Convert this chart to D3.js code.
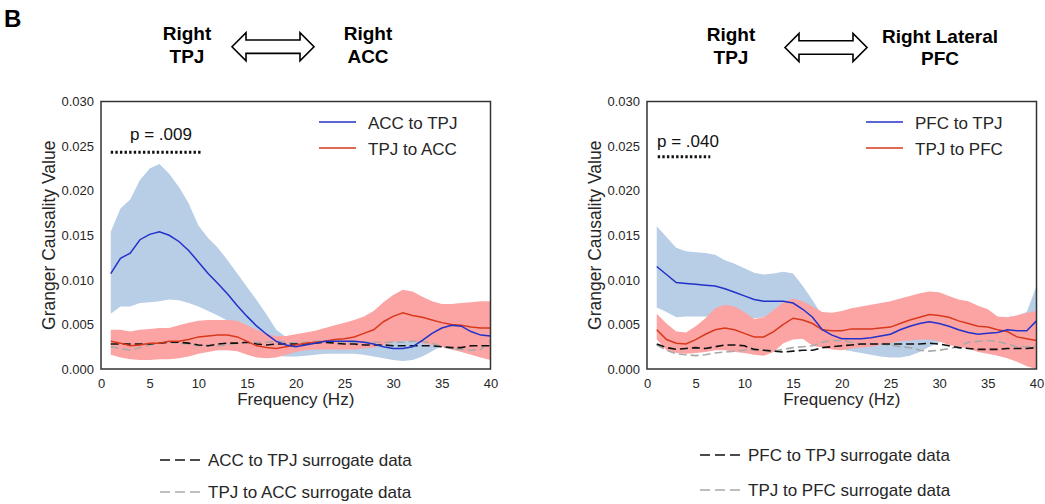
<!DOCTYPE html>
<html><head><meta charset="utf-8">
<script src="https://cdn.jsdelivr.net/npm/d3@7"></script>
<style>
html,body{margin:0;padding:0;background:#fff;}
svg{display:block;font-family:"Liberation Sans",Arial,sans-serif;}
</style></head>
<body><svg id="c" width="1045" height="504"></svg>
<script>
// ---------- DATA ----------
const freqs = [1,2,3,4,5,6,7,8,9,10,11,12,13,14,15,16,17,18,19,20,21,22,23,24,25,26,27,28,29,30,31,32,33,34,35,36,37,38,39,40];
const xTicks = [0,5,10,15,20,25,30,35,40];
const yTicks = [0,0.005,0.010,0.015,0.020,0.025,0.030];

// Left panel: ACC <-> TPJ
const accToTpj      = [0.0107,0.0124,0.0130,0.0145,0.0151,0.0154,0.0150,0.0143,0.0133,0.0120,0.0107,0.0096,0.0084,0.0071,0.0059,0.0048,0.0039,0.0031,0.0027,0.0025,0.0027,0.0029,0.0031,0.0031,0.0031,0.0031,0.0030,0.0028,0.0025,0.0023,0.0023,0.0025,0.0032,0.0040,0.0046,0.0049,0.0048,0.0042,0.0038,0.0037];
const accToTpjUpper = [0.0154,0.0180,0.0190,0.0212,0.0225,0.0230,0.0219,0.0204,0.0186,0.0161,0.0147,0.0136,0.0122,0.0107,0.0092,0.0077,0.0061,0.0044,0.0036,0.0034,0.0034,0.0035,0.0036,0.0036,0.0036,0.0036,0.0036,0.0035,0.0034,0.0034,0.0034,0.0036,0.0042,0.0050,0.0057,0.0061,0.0060,0.0055,0.0050,0.0048];
const accToTpjLower = [0.0062,0.0070,0.0070,0.0074,0.0075,0.0076,0.0078,0.0077,0.0074,0.0070,0.0065,0.0060,0.0054,0.0046,0.0037,0.0028,0.0020,0.0015,0.0014,0.0014,0.0015,0.0016,0.0017,0.0017,0.0017,0.0017,0.0016,0.0014,0.0012,0.0010,0.0009,0.0010,0.0014,0.0020,0.0026,0.0028,0.0025,0.0020,0.0015,0.0011];
const tpjToAcc      = [0.0031,0.0029,0.0026,0.0027,0.0029,0.0029,0.0031,0.0031,0.0033,0.0036,0.0037,0.0038,0.0038,0.0036,0.0031,0.0026,0.0024,0.0023,0.0025,0.0027,0.0029,0.0030,0.0031,0.0033,0.0034,0.0036,0.0040,0.0044,0.0053,0.0059,0.0063,0.0060,0.0058,0.0055,0.0052,0.0050,0.0049,0.0047,0.0046,0.0046];
const tpjToAccUpper = [0.0044,0.0044,0.0042,0.0044,0.0045,0.0046,0.0046,0.0049,0.0052,0.0054,0.0055,0.0055,0.0055,0.0054,0.0049,0.0044,0.0039,0.0037,0.0037,0.0039,0.0041,0.0043,0.0046,0.0049,0.0052,0.0055,0.0059,0.0065,0.0075,0.0083,0.0089,0.0087,0.0081,0.0076,0.0073,0.0073,0.0074,0.0075,0.0076,0.0076];
const tpjToAccLower = [0.0016,0.0013,0.0011,0.0010,0.0010,0.0011,0.0011,0.0012,0.0014,0.0017,0.0019,0.0021,0.0021,0.0020,0.0016,0.0013,0.0012,0.0013,0.0016,0.0019,0.0021,0.0022,0.0022,0.0022,0.0022,0.0022,0.0023,0.0024,0.0027,0.0030,0.0032,0.0031,0.0029,0.0027,0.0025,0.0022,0.0019,0.0016,0.0013,0.0010];
const accToTpjSurr  = [0.0028,0.0028,0.0028,0.0028,0.0028,0.0029,0.0030,0.0030,0.0029,0.0027,0.0026,0.0028,0.0029,0.0029,0.0030,0.0028,0.0027,0.0028,0.0028,0.0028,0.0028,0.0029,0.0030,0.0029,0.0028,0.0028,0.0027,0.0027,0.0027,0.0026,0.0026,0.0026,0.0026,0.0026,0.0025,0.0024,0.0024,0.0026,0.0026,0.0026];
const tpjToAccSurr  = [0.0025,0.0023,0.0021,0.0024,0.0027,0.0029,0.0030,0.0029,0.0028,0.0026,0.0026,0.0026,0.0027,0.0029,0.0030,0.0030,0.0030,0.0031,0.0030,0.0029,0.0030,0.0031,0.0031,0.0031,0.0030,0.0030,0.0030,0.0030,0.0030,0.0030,0.0030,0.0031,0.0031,0.0029,0.0025,0.0023,0.0022,0.0021,0.0022,0.0032];

// Right panel: PFC <-> TPJ
const pfcToTpj      = [0.0115,0.0106,0.0097,0.0096,0.0095,0.0094,0.0093,0.0090,0.0086,0.0082,0.0078,0.0076,0.0076,0.0076,0.0074,0.0067,0.0058,0.0044,0.0038,0.0034,0.0034,0.0034,0.0035,0.0037,0.0039,0.0044,0.0048,0.0051,0.0053,0.0051,0.0048,0.0044,0.0041,0.0039,0.0040,0.0041,0.0044,0.0043,0.0043,0.0054];
const pfcToTpjUpper = [0.0160,0.0148,0.0136,0.0132,0.0131,0.0130,0.0128,0.0122,0.0118,0.0113,0.0108,0.0106,0.0107,0.0109,0.0107,0.0093,0.0077,0.0060,0.0050,0.0045,0.0045,0.0045,0.0045,0.0047,0.0050,0.0054,0.0058,0.0061,0.0063,0.0062,0.0060,0.0057,0.0054,0.0052,0.0052,0.0055,0.0058,0.0060,0.0064,0.0093];
const pfcToTpjLower = [0.0069,0.0064,0.0058,0.0059,0.0059,0.0059,0.0059,0.0059,0.0059,0.0058,0.0057,0.0058,0.0062,0.0060,0.0055,0.0050,0.0040,0.0030,0.0025,0.0022,0.0020,0.0018,0.0016,0.0014,0.0013,0.0013,0.0015,0.0019,0.0025,0.0030,0.0031,0.0030,0.0027,0.0025,0.0026,0.0028,0.0030,0.0031,0.0030,0.0028];
const tpjToPfc      = [0.0044,0.0033,0.0029,0.0028,0.0033,0.0039,0.0044,0.0046,0.0044,0.0040,0.0036,0.0036,0.0042,0.0050,0.0057,0.0055,0.0051,0.0044,0.0043,0.0043,0.0045,0.0045,0.0045,0.0046,0.0047,0.0051,0.0055,0.0058,0.0061,0.0060,0.0058,0.0054,0.0051,0.0048,0.0047,0.0044,0.0042,0.0036,0.0034,0.0032];
const tpjToPfcUpper = [0.0062,0.0051,0.0042,0.0041,0.0048,0.0057,0.0068,0.0072,0.0070,0.0064,0.0056,0.0058,0.0066,0.0075,0.0079,0.0076,0.0070,0.0064,0.0063,0.0065,0.0068,0.0070,0.0072,0.0074,0.0076,0.0079,0.0082,0.0085,0.0087,0.0086,0.0082,0.0078,0.0076,0.0071,0.0067,0.0059,0.0058,0.0060,0.0063,0.0065];
const tpjToPfcLower = [0.0033,0.0021,0.0018,0.0017,0.0018,0.0019,0.0021,0.0021,0.0019,0.0018,0.0016,0.0015,0.0019,0.0029,0.0033,0.0034,0.0026,0.0024,0.0022,0.0021,0.0023,0.0024,0.0025,0.0027,0.0029,0.0031,0.0032,0.0033,0.0033,0.0031,0.0027,0.0025,0.0023,0.0019,0.0017,0.0015,0.0012,0.0008,0.0003,0.0000];
const pfcToTpjSurr  = [0.0028,0.0024,0.0022,0.0023,0.0024,0.0023,0.0025,0.0027,0.0027,0.0026,0.0022,0.0021,0.0020,0.0019,0.0020,0.0021,0.0021,0.0024,0.0025,0.0026,0.0027,0.0028,0.0028,0.0028,0.0028,0.0028,0.0028,0.0028,0.0029,0.0028,0.0026,0.0024,0.0023,0.0022,0.0022,0.0022,0.0023,0.0023,0.0023,0.0024];
const tpjToPfcSurr  = [0.0027,0.0021,0.0017,0.0016,0.0015,0.0016,0.0018,0.0019,0.0020,0.0021,0.0022,0.0021,0.0020,0.0022,0.0024,0.0025,0.0026,0.0030,0.0032,0.0032,0.0030,0.0028,0.0028,0.0028,0.0027,0.0025,0.0024,0.0021,0.0020,0.0021,0.0023,0.0025,0.0030,0.0031,0.0032,0.0031,0.0028,0.0025,0.0025,0.0026];

// significance windows (frequency ranges) and labels
const sigLeft  = {from: 1, to: 10.4, label: "p = .009", y: 0.0243};
const sigRight = {from: 1.1, to: 6.5, label: "p = .040", y: 0.0238};

// ---------- STYLE ----------
const BLUE = "#2232c9", BLUE_FILL = "#b8cde6";
const RED = "#d8391c", RED_FILL = "#fca4a4";
const TXT = "#262626", AX = "#333";

const svg = d3.select("#c");

svg.append("text").attr("x", 4).attr("y", 27).attr("font-weight", "bold")
  .attr("font-size", 24).attr("fill", "#000").text("B");

function header(cx1, l1, l2, ax0, ax1, cy, cx2, r1, r2, base1, base2) {
  const g = svg.append("g").attr("font-weight", "bold").attr("font-size", 19).attr("fill", "#000").attr("text-anchor", "middle");
  g.append("text").attr("x", cx1).attr("y", base1[0]).text(l1);
  g.append("text").attr("x", cx1).attr("y", base1[1]).text(l2);
  g.append("text").attr("x", cx2).attr("y", base2[0]).text(r1);
  g.append("text").attr("x", cx2).attr("y", base2[1]).text(r2);
  const hl = 14, sh = 6.7, hh = 14;
  const p = d3.path();
  p.moveTo(ax0, cy);
  p.lineTo(ax0 + hl, cy - hh); p.lineTo(ax0 + hl, cy - sh);
  p.lineTo(ax1 - hl, cy - sh); p.lineTo(ax1 - hl, cy - hh);
  p.lineTo(ax1, cy);
  p.lineTo(ax1 - hl, cy + hh); p.lineTo(ax1 - hl, cy + sh);
  p.lineTo(ax0 + hl, cy + sh); p.lineTo(ax0 + hl, cy + hh);
  p.closePath();
  svg.append("path").attr("d", p.toString()).attr("fill", "#fff").attr("stroke", "#000").attr("stroke-width", 1.6);
}
header(187, "Right", "TPJ", 232, 314, 46.7, 368, "Right", "ACC", [40, 63], [40, 63]);
header(731, "Right", "TPJ", 785, 867, 47.5, 940, "Right Lateral", "PFC", [40.5, 64], [42.5, 65]);

function panel(o) {
  const x = d3.scaleLinear().domain([0, 40]).range([o.left, o.left + 389.5]);
  const y = d3.scaleLinear().domain([0, 0.030]).range([369, 101.5]);
  const g = svg.append("g");

  const area = (lo, hi) => d3.area().x((d, i) => x(freqs[i])).y0((d, i) => y(lo[i])).y1((d, i) => y(hi[i]))(freqs);
  const line = (v) => d3.line().x((d, i) => x(freqs[i])).y((d, i) => y(v[i]))(freqs);

  g.append("path").attr("d", area(o.bLo, o.bHi)).attr("fill", BLUE_FILL);
  g.append("path").attr("d", area(o.rLo, o.rHi)).attr("fill", RED_FILL);
  g.append("path").attr("d", line(o.surrGray)).attr("fill", "none").attr("stroke", "#a9a9a9").attr("stroke-width", 1.6).attr("stroke-dasharray", "8,4");
  g.append("path").attr("d", line(o.surrBlack)).attr("fill", "none").attr("stroke", "#111").attr("stroke-width", 1.6).attr("stroke-dasharray", "8,4");
  g.append("path").attr("d", line(o.red)).attr("fill", "none").attr("stroke", RED).attr("stroke-width", 1.5);
  g.append("path").attr("d", line(o.blue)).attr("fill", "none").attr("stroke", BLUE).attr("stroke-width", 1.5);

  // frame
  g.append("rect").attr("x", x(0)).attr("y", y(0.030)).attr("width", x(40) - x(0)).attr("height", y(0) - y(0.030))
    .attr("fill", "none").attr("stroke", AX).attr("stroke-width", 1.5);

  // axes (labels only)
  const xa = g.append("g").attr("transform", `translate(0,${y(0)})`)
    .call(d3.axisBottom(x).tickValues(xTicks).tickSize(0).tickPadding(10).tickFormat(d3.format("d")));
  const ya = g.append("g").attr("transform", `translate(${x(0)},0)`)
    .call(d3.axisLeft(y).tickValues(yTicks).tickSize(0).tickPadding(7).tickFormat(d3.format(".3f")));
  [xa, ya].forEach(a => {
    a.select(".domain").remove();
    a.selectAll("text").attr("font-size", 13).attr("fill", TXT).attr("font-family", "Liberation Sans, Arial, sans-serif");
  });

  g.append("text").attr("x", (x(0) + x(40)) / 2).attr("y", 405).attr("text-anchor", "middle")
    .attr("font-size", 17).attr("fill", TXT).text("Frequency (Hz)");
  g.append("text").attr("transform", `translate(${x(0) - 46},${(y(0) + y(0.03)) / 2}) rotate(-90)`)
    .attr("text-anchor", "middle").attr("font-size", 17.5).attr("fill", TXT).text("Granger Causality Value");

  // in-plot legend
  const lg = g.append("g");
  [[o.names[0], BLUE, 122], [o.names[1], RED, 148]].forEach(([t, c, ly]) => {
    lg.append("line").attr("x1", o.legX).attr("x2", o.legX + 37).attr("y1", ly).attr("y2", ly).attr("stroke", c).attr("stroke-width", 1.5);
    lg.append("text").attr("x", o.legX + 49).attr("y", ly + 7).attr("font-size", 17).attr("fill", TXT).text(t);
  });

  // significance marker
  g.append("line").attr("x1", x(o.sig.from)).attr("x2", x(o.sig.to)).attr("y1", y(o.sig.y)).attr("y2", y(o.sig.y))
    .attr("stroke", "#111").attr("stroke-width", 3).attr("stroke-dasharray", "2.4,2.2");
  g.append("text").attr("x", o.pX).attr("y", o.pY).attr("font-size", 17).attr("fill", "#111").text(o.sig.label);

  // bottom legend
  [[o.surrNames[0], "#111", o.bl[0]], [o.surrNames[1], "#a9a9a9", o.bl[1]]].forEach(([t, c, ly]) => {
    svg.append("line").attr("x1", o.blX).attr("x2", o.blX + 40).attr("y1", ly).attr("y2", ly).attr("stroke", c).attr("stroke-width", 1.6).attr("stroke-dasharray", "10,5");
    svg.append("text").attr("x", o.blX + 48).attr("y", ly + 6).attr("font-size", 17).attr("fill", TXT).text(t);
  });
}

panel({left: 101, blue: accToTpj, bHi: accToTpjUpper, bLo: accToTpjLower,
  red: tpjToAcc, rHi: tpjToAccUpper, rLo: tpjToAccLower, surrBlack: accToTpjSurr, surrGray: tpjToAccSurr,
  names: ["ACC to TPJ", "TPJ to ACC"], legX: 319, sig: sigLeft, pX: 130, pY: 139.5,
  surrNames: ["ACC to TPJ surrogate data", "TPJ to ACC surrogate data"], blX: 160, bl: [460, 492]});
panel({left: 647, blue: pfcToTpj, bHi: pfcToTpjUpper, bLo: pfcToTpjLower,
  red: tpjToPfc, rHi: tpjToPfcUpper, rLo: tpjToPfcLower, surrBlack: pfcToTpjSurr, surrGray: tpjToPfcSurr,
  names: ["PFC to TPJ", "TPJ to PFC"], legX: 866, sig: sigRight, pX: 657, pY: 147,
  surrNames: ["PFC to TPJ surrogate data", "TPJ to PFC surrogate data"], blX: 700, bl: [455, 490]});
</script></body></html>
